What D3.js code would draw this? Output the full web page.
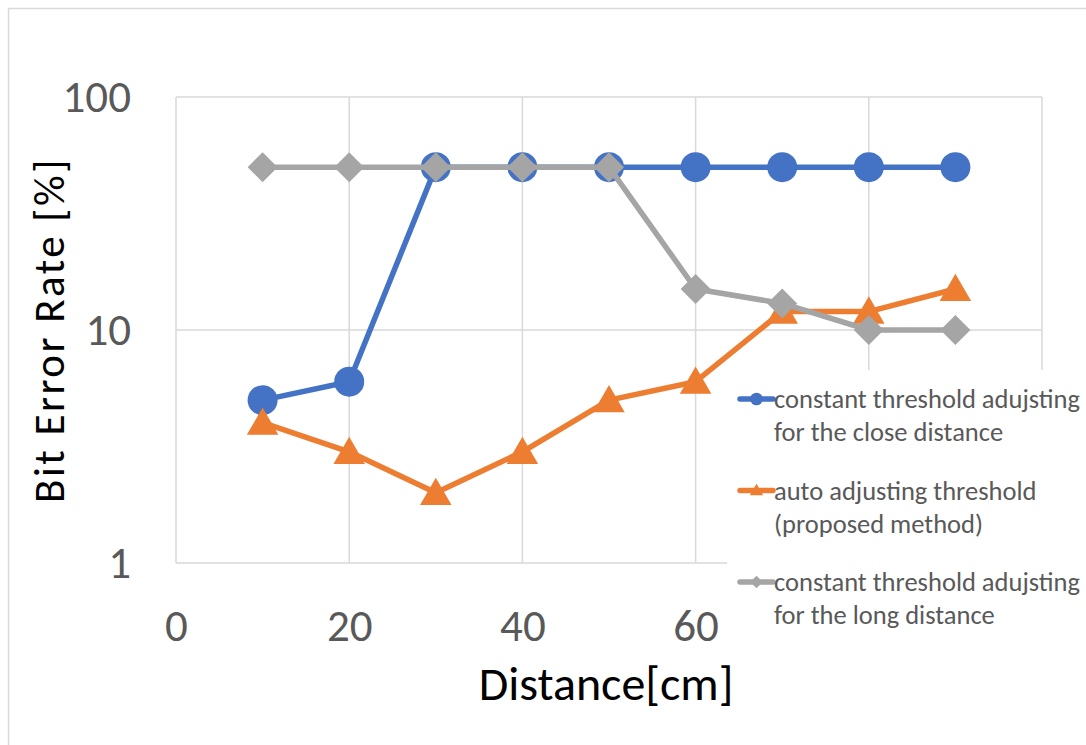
<!DOCTYPE html>
<html>
<head>
<meta charset="utf-8">
<script src="https://cdn.jsdelivr.net/npm/d3@7"></script>
<style>
  html, body { margin: 0; padding: 0; background: #fff; }
  svg { display: block; font-family: Carlito, Calibri, Lato, sans-serif; }
  svg text { font-family: Carlito, Calibri, Lato, sans-serif; }
</style>
</head>
<body>
<div id="chart"></div>
<script>
// Data
const distances = [10, 20, 30, 40, 50, 60, 70, 80, 90];
const closeThreshold = [5, 6, 50, 50, 50, 50, 50, 50, 50];
const autoThreshold = [4, 3, 2, 3, 5, 6, 12, 12, 15];
const longThreshold = [50, 50, 50, 50, 50, 15, 13, 10, 10];
const xGrid = [0, 20, 40, 60, 80, 100];
const xTickLabels = [0, 20, 40, 60]; // 80 and 100 sit under the legend
const yTicks = [1, 10, 100];

const seriesList = [
  { name: ["constant threshold adujsting", "for the close distance"], values: closeThreshold, color: "#4472C4", shape: "circle" },
  { name: ["auto adjusting threshold", "(proposed method)"], values: autoThreshold, color: "#ED7D31", shape: "triangle" },
  { name: ["constant threshold adujsting", "for the long distance"], values: longThreshold, color: "#A5A5A5", shape: "diamond" }
];

const width = 1086, height = 745;
const margin = { top: 97, right: 44, bottom: 182, left: 176 };
const innerWidth = width - margin.left - margin.right;
const innerHeight = height - margin.top - margin.bottom;

const svg = d3.select("#chart").append("svg")
  .attr("width", width)
  .attr("height", height);

// chart area border (only top and left edges are inside the picture)
svg.append("path")
  .attr("d", `M8.5,${height}V8.5H${width}`)
  .attr("fill", "none").attr("stroke", "#D9D9D9").attr("stroke-width", 1.5);

const g = svg.append("g").attr("transform", `translate(${margin.left},${margin.top})`);

const x = d3.scaleLinear().domain([0, 100]).range([0, innerWidth]);
const y = d3.scaleLog().domain([1, 100]).range([innerHeight, 0]);

// gridlines
g.append("g").selectAll("line").data(xGrid).join("line")
  .attr("x1", d => x(d)).attr("x2", d => x(d))
  .attr("y1", 0).attr("y2", innerHeight)
  .attr("stroke", "#D9D9D9").attr("stroke-width", 1.5);
g.append("g").selectAll("line").data(yTicks).join("line")
  .attr("x1", 0).attr("x2", innerWidth)
  .attr("y1", d => y(d)).attr("y2", d => y(d))
  .attr("stroke", "#D9D9D9").attr("stroke-width", 1.5);

// axes (labels only)
const xAxis = g.append("g")
  .attr("transform", `translate(0,${innerHeight})`)
  .call(d3.axisBottom(x).tickValues(xTickLabels).tickSize(0).tickPadding(46).tickFormat(d3.format("d")));
const yAxis = g.append("g")
  .call(d3.axisLeft(y).tickValues(yTicks).tickSize(0).tickPadding(45).tickFormat(d3.format("d")));
[xAxis, yAxis].forEach(ax => {
  ax.attr("font-family", null);
  ax.select(".domain").remove();
  ax.selectAll("text").attr("fill", "#595959").style("font-size", "45px");
});

// lines and markers
const line = d3.line().x((d, i) => x(distances[i])).y(d => y(d));

function symbolPath(shape, scale) {
  if (shape === "circle") return d3.symbol(d3.symbolCircle, 707 * scale)();
  if (shape === "triangle") return d3.symbol(d3.symbolTriangle, 430 * scale)();
  return d3.symbol(d3.symbolSquare, 450 * scale)();
}

seriesList.forEach(s => {
  g.append("path")
    .datum(s.values)
    .attr("d", line)
    .attr("fill", "none")
    .attr("stroke", s.color)
    .attr("stroke-width", 5.5)
    .attr("stroke-linejoin", "round");
  g.append("g").selectAll("path").data(s.values).join("path")
    .attr("d", symbolPath(s.shape, 1))
    .attr("transform", (d, i) => `translate(${x(distances[i])},${y(d) + (s.shape === "triangle" ? 3 : 0)})` + (s.shape === "diamond" ? " rotate(45)" : ""))
    .attr("fill", s.color);
});

// legend
const legend = svg.append("g").attr("transform", "translate(727,370)");
legend.append("rect")
  .attr("width", width - 727).attr("height", 290)
  .attr("fill", "#fff");

seriesList.forEach((s, i) => {
  const ly = 29 + i * 91.5;
  const item = legend.append("g").attr("transform", `translate(0,${ly})`);
  item.append("line")
    .attr("x1", 13).attr("x2", 46)
    .attr("stroke", s.color).attr("stroke-width", 5.5).attr("stroke-linecap", "round");
  item.append("path")
    .attr("d", symbolPath(s.shape, 0.18))
    .attr("transform", `translate(29.5,${s.shape === "triangle" ? 1 : 0})` + (s.shape === "diamond" ? " rotate(45)" : ""))
    .attr("fill", s.color);
  item.append("text")
    .attr("x", 47).attr("y", 9)
    .attr("fill", "#595959")
    .style("font-size", "26.5px")
    .selectAll("tspan").data(s.name).join("tspan")
    .attr("x", 47).attr("dy", (d, j) => j === 0 ? 0 : 33)
    .text(d => d);
});

// axis titles
svg.append("text")
  .attr("x", 606).attr("y", 700)
  .attr("text-anchor", "middle")
  .attr("fill", "#000")
  .style("font-size", "48px")
  .text("Distance[cm]");

svg.append("text")
  .attr("transform", "translate(64,330) rotate(-90)")
  .attr("text-anchor", "middle")
  .attr("fill", "#000")
  .style("font-size", "43px")
  .style("letter-spacing", "2.5px")
  .text("Bit Error Rate [%]");
</script>
</body>
</html>
